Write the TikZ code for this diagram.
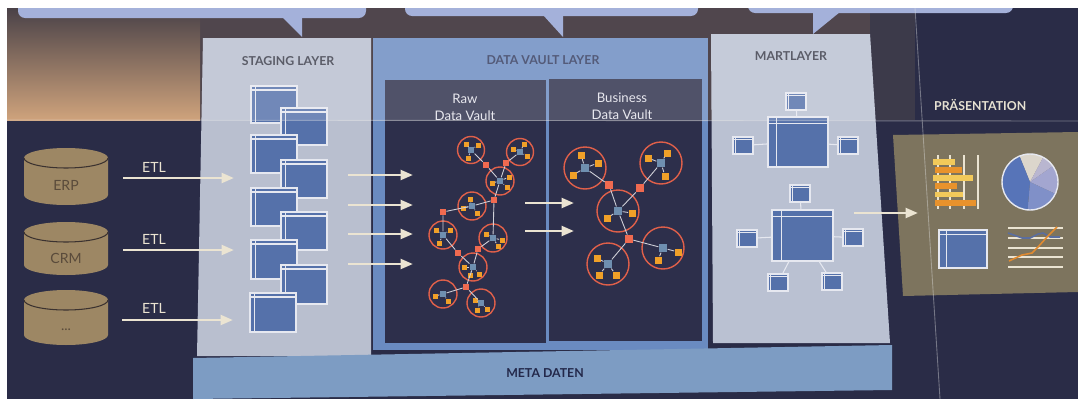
\documentclass[tikz,border=0pt]{standalone}
\usepackage{fontspec}
\setmainfont{Lato}
\usetikzlibrary{arrows.meta,fit,calc}

\definecolor{navy}{HTML}{2A2C47}
\definecolor{dusk}{HTML}{50464D}
\definecolor{duskDark}{HTML}{3C3A4A}
\definecolor{duskTop}{HTML}{4A4248}
\definecolor{duskMid}{HTML}{74604F}
\definecolor{duskLow}{HTML}{CFA37C}
\definecolor{bubble}{HTML}{A4B1DA}
\definecolor{stage}{HTML}{B9BFCF}
\definecolor{vault}{HTML}{6A8BC1}
\definecolor{vaultin}{HTML}{2D2F4B}
\definecolor{mart}{HTML}{BAC1D2}
\definecolor{meta}{HTML}{7D9CC3}
\definecolor{pres}{HTML}{7D745E}
\definecolor{boxblue}{HTML}{5571AA}
\definecolor{boxline}{HTML}{E6E8F0}
\definecolor{cream}{HTML}{EBE4D2}
\definecolor{cylfill}{HTML}{9D8764}
\definecolor{cylline}{HTML}{3B3230}
\definecolor{cyltxt}{HTML}{5A4B3B}
\definecolor{ringred}{HTML}{E0604A}
\definecolor{linkred}{HTML}{F06A50}
\definecolor{hubblue}{HTML}{6F8FB0}
\definecolor{satorange}{HTML}{F0A028}
\definecolor{netgray}{HTML}{D0D0D8}
\definecolor{titledark}{HTML}{3A3C4A}
\definecolor{vaulttitle}{HTML}{323A5E}
\definecolor{metatitle}{HTML}{23284A}
\definecolor{prestitle}{HTML}{E6E1D2}
\definecolor{subtitle}{HTML}{E4E4EC}
\definecolor{barYellow}{HTML}{F2C95A}
\definecolor{barOrange}{HTML}{E8922C}
\definecolor{pieCream}{HTML}{DCD6CC}
\definecolor{pieLavA}{HTML}{B9B6D0}
\definecolor{pieLavB}{HTML}{A3A6D0}
\definecolor{pieLavC}{HTML}{8090C8}
\definecolor{pieBlue}{HTML}{5774B8}
\definecolor{chartBlue}{HTML}{5A6EA0}
\definecolor{chartOrange}{HTML}{E08A30}

% database cylinder: name, centre x, top y, bottom y, label, label shift
\newcommand\dbcyl[6]{%
  \fill[cylfill] (#2-42,#3+10) -- (#2-42,#4-10)
    arc[start angle=180,end angle=0,x radius=42,y radius=10]
    -- (#2+42,#3+10)
    arc[start angle=0,end angle=-180,x radius=42,y radius=10] -- cycle;
  \draw[cylline,line width=0.6pt] (#2-42,#3+10)
    arc[start angle=180,end angle=0,x radius=42,y radius=10];
  \node[cyltext] (#1) at (#2,{(#3+#4)/2+#6}) {#5};
}

% table icon: name, x, y (top left), width, height, header inset, column inset
\newcommand\tblicon[7]{%
  \coordinate (#1-a) at (#2,#3);
  \coordinate (#1-b) at ($(#2,#3)+(#4,#5)$);
  \node[tbl, fit=(#1-a)(#1-b)] (#1) {};
  \draw[tblline] ($(#1.north west)+(0,#6)$) -- ($(#1.north east)+(0,#6)$);
  \draw[tblline] ($(#1.north west)+(#7,0)$) -- ($(#1.south west)+(#7,0)$);
}

% hub cluster: name, x, y, ring size, hub size, satellite size, satellite offsets
\newcommand\hubicon[7]{%
  \node[ring=#4] (#1-ring) at (#2,#3) {};
  \node[hubsq=#5] (#1) at (#2,#3) {};
  \foreach \hx/\hy [count=\hk] in {#7}{%
    \node[sat=#6] (#1-s\hk) at ($(#2,#3)+(\hx,\hy)$) {};
    \draw[netline] (#1) -- (#1-s\hk);
  }%
}

% panel outlines, reused for the light upper band
\newcommand\stagingpath{(203,38) -- (371,38) -- (371,356) -- (197,356) -- cycle}
\newcommand\vaultpath{(373,38) -- (708,38) -- (708,350) -- (373,350) -- cycle}
\newcommand\martpath{(711,34) -- (870,34) -- (890,343) -- (713,343) -- cycle}

\begin{document}
\begin{tikzpicture}[x=0.02cm,y=-0.02cm,
  flow/.style={draw=cream, line width=1.6pt, -{Triangle[length=7pt,width=5.5pt]}},
  tbl/.style={draw=boxline, fill=boxblue, line width=0.6pt, inner sep=0pt},
  tblline/.style={draw=boxline, line width=0.6pt},
  ring/.style={circle, draw=ringred, line width=0.8pt, inner sep=0pt, minimum size=#1},
  hubsq/.style={fill=hubblue, inner sep=0pt, minimum size=#1},
  sat/.style={fill=satorange, inner sep=0pt, minimum size=#1},
  lnk/.style={fill=linkred, inner sep=0pt, minimum size=#1},
  netline/.style={draw=netgray, line width=0.5pt},
  cyltext/.style={text=cyltxt, font=\fontsize{8}{9}\selectfont},
  etltext/.style={text=cream, font=\fontsize{8}{9}\selectfont},
  layertitle/.style={text=titledark, font=\bfseries\fontsize{7}{8}\selectfont},
  vaultsub/.style={text=subtitle, align=center, font=\fontsize{7.5}{9.6}\selectfont},
  fold/.style={draw=white!80!gray, line width=0.5pt, opacity=0.4},
]
\useasboundingbox (0,0) rectangle (1078,399);

% ---- background ----
\fill[white] (0,0) rectangle (1078,399);
\fill[navy] (7,8) rectangle (1078,399);
\fill[dusk] (200,8) rectangle (870,120);
\fill[duskDark] (870,8) rectangle (915,120);
\shade[top color=duskTop, middle color=duskMid, bottom color=duskLow]
  (7,8) rectangle (200,120);

% ---- speech bubbles along the top ----
\fill[bubble, rounded corners=4pt] (18,-20) rectangle (366,18);
\fill[bubble] (282,17) -- (302,17) -- (302,37) -- cycle;
\fill[bubble, rounded corners=4pt] (405,-20) rectangle (698,16);
\fill[bubble] (543,15) -- (563,15) -- (563,37) -- cycle;
\fill[bubble, rounded corners=4pt] (748,-20) rectangle (1013,13);
\fill[bubble] (813,12) -- (840,12) -- (813,34) -- cycle;

% ---- layer panels ----
\fill[stage] \stagingpath;
\fill[vault] \vaultpath;
\fill[vaultin] (385,80) rectangle (546,343);
\fill[vaultin] (549,79) rectangle (702,341);
\fill[mart] \martpath;
\fill[meta] (193,358) -- (892,345) -- (892,390) -- (193,399) -- cycle;
\fill[pres] (893,135) -- (1078,132) -- (1078,292) -- (903,296) -- cycle;

% ---- titles ----
\node[layertitle] (stagingtitle) at (288,61) {STAGING LAYER};
\node[layertitle, text=vaulttitle] (vaulttitle) at (543,60) {DATA VAULT LAYER};
\node[layertitle] (marttitle) at (791,56) {MARTLAYER};
\node[layertitle, text=metatitle] (metatitle) at (545,373) {META DATEN};
\node[layertitle, text=prestitle, anchor=west] (prestitle) at (928,105) {PRÄSENTATION};
\node[vaultsub] (rawtitle) at (465,107) {Raw\\Data Vault};
\node[vaultsub] (biztitle) at (622,106) {Business\\Data Vault};

% ---- sources ----
\dbcyl{erp}{66}{148}{205}{ERP}{9}
\dbcyl{crm}{66}{222}{275}{CRM}{10}
\dbcyl{misc}{66}{290}{345}{...}{12}

\node[etltext] (etl1) at (154,167) {ETL};
\node[etltext] (etl2) at (154,239) {ETL};
\node[etltext] (etl3) at (154,308) {ETL};

% ---- staging tables ----
\tblicon{st1}{251}{86}{46}{37}{4.5}{5}
\tblicon{st2}{281}{108}{46}{37}{4.5}{5}
\tblicon{st3}{251}{135}{46}{38}{4.5}{5}
\tblicon{st4}{281}{160}{46}{38}{4.5}{5}
\tblicon{st5}{251}{188}{46}{38}{4.5}{5}
\tblicon{st6}{281}{212}{46}{38}{4.5}{5}
\tblicon{st7}{251}{240}{46}{39}{4.5}{5}
\tblicon{st8}{281}{265}{46}{39}{4.5}{5}
\tblicon{st9}{250}{293}{46}{39}{4.5}{5}

% ---- flow arrows ----
\coordinate (e1s) at (123,178); \coordinate (e1e) at (234,178);
\coordinate (e2s) at (123,250); \coordinate (e2e) at (234,250);
\coordinate (e3s) at (122,320); \coordinate (e3e) at (233,320);
\draw[flow] (e1s) -- (e1e);
\draw[flow] (e2s) -- (e2e);
\draw[flow] (e3s) -- (e3e);

\foreach \ay [count=\ai] in {175,205,234,264}{
  \coordinate (v\ai s) at (348,\ay);
  \coordinate (v\ai e) at (413,\ay);
  \draw[flow] (v\ai s) -- (v\ai e);
}
\coordinate (r1s) at (525,203); \coordinate (r1e) at (574,203);
\coordinate (r2s) at (525,231); \coordinate (r2e) at (574,231);
\draw[flow] (r1s) -- (r1e);
\draw[flow] (r2s) -- (r2e);

\coordinate (m1s) at (854,213); \coordinate (m1e) at (918,213);
\draw[flow] (m1s) -- (m1e);

% ---- raw data vault network ----
\hubicon{c1}{471}{150}{0.54cm}{0.13cm}{0.1cm}{-5/-6, 7/-5, -3/8}
\hubicon{c2}{520}{152}{0.54cm}{0.13cm}{0.1cm}{4/-8, -7/-3, 7/4}
\hubicon{c3}{500}{181}{0.56cm}{0.13cm}{0.1cm}{9/-4, -8/2, 7/6}
\hubicon{c4}{472}{206}{0.56cm}{0.13cm}{0.1cm}{-2/-7, -9/2, 5/7}
\hubicon{c5}{443}{235}{0.56cm}{0.13cm}{0.1cm}{-7/-5, 7/-5, -4/8}
\hubicon{c6}{493}{238}{0.56cm}{0.13cm}{0.1cm}{-7/-4, 5/8, 9/2}
\hubicon{c7}{473}{267}{0.56cm}{0.13cm}{0.1cm}{-9/0, 6/7, -3/8}
\hubicon{c8}{443}{294}{0.56cm}{0.13cm}{0.1cm}{-8/2, 5/7}
\hubicon{c9}{481}{303}{0.56cm}{0.13cm}{0.1cm}{-4/7, 6/6, -6/-3}

\node[lnk=0.12cm] (l1) at (486,165) {};
\node[lnk=0.12cm] (l2) at (506,163) {};
\node[lnk=0.12cm] (l3) at (494,200) {};
\node[lnk=0.12cm] (l4) at (443,212) {};
\node[lnk=0.12cm] (l5) at (458,253) {};
\node[lnk=0.12cm] (l6) at (478,249) {};
\node[lnk=0.12cm] (l7) at (466,287) {};

\draw[netline] (c1) -- (l1) -- (c3);
\draw[netline] (c2) -- (l2) -- (c3);
\draw[netline] (c3) -- (l3);
\draw[netline] (l3) -- (c4);
\draw[netline] (l3) -- (c6);
\draw[netline] (c4) -- (l4) -- (c5);
\draw[netline] (c5) -- (l5) -- (c7);
\draw[netline] (c6) -- (l6) -- (c7);
\draw[netline] (c7) -- (l7);
\draw[netline] (l7) -- (c8);
\draw[netline] (l7) -- (c9);

% ---- business data vault network ----
\hubicon{b1}{585}{168}{0.84cm}{0.17cm}{0.14cm}{-4/-13, 13/-5, -12/7}
\hubicon{b2}{661}{163}{0.84cm}{0.17cm}{0.14cm}{-13/-5, 6/-10, 4/13}
\hubicon{b3}{618}{211}{0.84cm}{0.17cm}{0.14cm}{14/2, -11/7}
\hubicon{b4}{608}{264}{0.84cm}{0.17cm}{0.14cm}{-11/-6, -9/11, 8/11}
\hubicon{b5}{663}{248}{0.84cm}{0.17cm}{0.14cm}{15/4, -5/12}

\node[lnk=0.16cm] (lb1) at (609,185) {};
\node[lnk=0.16cm] (lb2) at (640,188) {};
\node[lnk=0.16cm] (lb3) at (629,239) {};

\draw[netline] (b1) -- (lb1) -- (b3);
\draw[netline] (b2) -- (lb2) -- (b3);
\draw[netline] (b3) -- (lb3);
\draw[netline] (lb3) -- (b4);
\draw[netline] (lb3) -- (b5);

% ---- mart layer star schemas ----
\tblicon{fa}{768}{117}{60}{50}{7}{9}
\tblicon{fat}{786}{93}{20}{17}{3}{3}
\tblicon{fal}{733}{137}{20}{17}{3}{3}
\tblicon{far}{838}{137}{20}{17}{3}{3}
\draw[tblline] (fat) -- (fa);
\draw[tblline] (fal) -- (fa);
\draw[tblline] (far) -- (fa);

\tblicon{fb}{772}{210}{61}{51}{7}{10}
\tblicon{fbt}{790}{185}{20}{17}{3}{3}
\tblicon{fbl}{737}{230}{20}{17}{3}{3}
\tblicon{fbr}{843}{229}{20}{17}{3}{3}
\tblicon{fbsl}{768}{274}{20}{17}{3}{3}
\tblicon{fbsr}{822}{273}{20}{17}{3}{3}
\draw[tblline] (fbt) -- (fb);
\draw[tblline] (fbl) -- (fb);
\draw[tblline] (fbr) -- (fb);
\draw[tblline] (fbsl) -- (fb);
\draw[tblline] (fbsr) -- (fb);

% ---- presentation icons ----
% bar chart
\foreach \gx in {938,950,964,978}
  \draw[cream, line width=0.6pt] (\gx,155) -- (\gx,209);
\fill[barYellow] (933,159) rectangle (955,165);
\fill[barOrange] (935,167) rectangle (962,173);
\fill[barYellow] (933,175) rectangle (973,181);
\fill[barOrange] (935,183) rectangle (957,189);
\fill[barYellow] (935,192) rectangle (963,197);
\fill[barOrange] (935,200) rectangle (976,206);

% pie chart
\coordinate (pie) at (1030,182);
\fill[pieCream] (pie) -- ++(-112:28) arc[start angle=-112,end angle=-62,radius=28] -- cycle;
\fill[pieLavA] (pie) -- ++(-62:28) arc[start angle=-62,end angle=-35,radius=28] -- cycle;
\fill[pieLavB] (pie) -- ++(-35:28) arc[start angle=-35,end angle=25,radius=28] -- cycle;
\fill[pieLavC] (pie) -- ++(25:28) arc[start angle=25,end angle=95,radius=28] -- cycle;
\fill[pieBlue] (pie) -- ++(95:28) arc[start angle=95,end angle=248,radius=28] -- cycle;
\draw[boxline, line width=0.8pt] (pie) circle[radius=28];

% table
\tblicon{pt}{939}{230}{48}{38}{5}{8}

% line chart
\foreach \gy in {228,238,248,257,267}
  \draw[cream, line width=0.6pt] (1008,\gy) -- (1063,\gy);
\draw[chartBlue, line width=0.9pt] (1008,233) -- (1022,238) -- (1030,238) -- (1038,234)
  -- (1043,233) -- (1050,237) -- (1060,237);
\draw[chartOrange, line width=0.9pt] (1009,261) -- (1022,255) -- (1032,253) -- (1038,247)
  -- (1047,237) -- (1057,227);

% ---- light upper band of the sheet, on the panels only ----
\begin{scope}
  \clip (190,30) rectangle (900,120);
  \fill[white, opacity=0.17] \stagingpath;
  \fill[white, opacity=0.17] \vaultpath;
  \fill[white, opacity=0.17] \martpath;
\end{scope}

% ---- creases in the paper ----
\draw[fold] (7,120) -- (1078,121);
\draw[fold] (915,8) -- (940,399);

% ---- paper edge ----
\fill[white] (0,0) rectangle (1078,8);
\fill[white] (0,0) rectangle (7,399);
\end{tikzpicture}
\end{document}
